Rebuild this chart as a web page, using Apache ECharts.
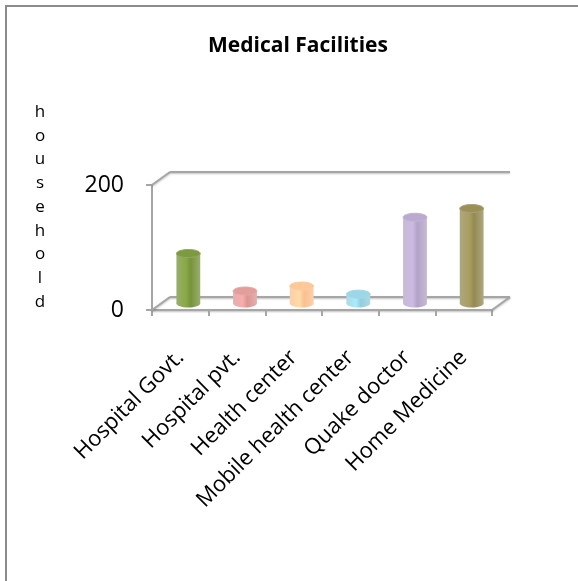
<!DOCTYPE html>
<html>
<head>
<meta charset="utf-8">
<script src="https://cdn.jsdelivr.net/npm/echarts@6/dist/echarts.min.js"></script>
<style>
  html, body { margin: 0; padding: 0; background: #fff; }
  #chart { width: 578px; height: 581px; }
</style>
</head>
<body>
<div id="chart"></div>
<script>
var categories = ['Hospital Govt.', 'Hospital pvt.', 'Health center', 'Mobile health center', 'Quake doctor', 'Home Medicine'];
var households = [80, 20, 28, 15, 138, 152];
var yTicks = [0, 200];

var barColors = ['#77933c', '#d99694', '#fac090', '#93cddd', '#b3a2c7', '#948a54'];
var frameColor = '#a6a6a6';
// 3d depth of the floor/walls in pixels
var depthX = 18, depthY = -13;

var chart = echarts.init(document.getElementById('chart'));

function renderFrame(params, api) {
  var cs = params.coordSys;
  var top = api.coord([0, yTicks[1]])[1];
  var left = cs.x, right = cs.x + cs.width, bottom = cs.y + cs.height;
  function line(x1, y1, x2, y2) {
    return {
      type: 'line',
      shape: { x1: x1, y1: y1, x2: x2, y2: y2 },
      style: { stroke: frameColor, lineWidth: 2, shadowBlur: 2, shadowColor: 'rgba(0,0,0,0.25)', shadowOffsetY: 1 }
    };
  }
  return {
    type: 'group',
    children: [
      line(left, top, left + depthX, top + depthY),
      line(left + depthX, top + depthY, right + depthX, top + depthY),
      line(left, bottom, left + depthX, bottom + depthY),
      line(left + depthX, bottom + depthY, right + depthX, bottom + depthY),
      line(right, bottom, right + depthX, bottom + depthY)
    ]
  };
}

function renderCylinder(params, api) {
  var i = api.value(0);
  var v = api.value(1);
  var base = api.coord([i, 0]);
  var head = api.coord([i, v]);
  var w = api.size([1, 0])[0] * 0.42;
  var cx = base[0] + depthX / 2 - 1;
  var by = base[1] + depthY / 2;
  var ty = head[1] + depthY / 2;
  var ry = 4;
  var c = barColors[i % barColors.length];
  var dark = echarts.color.lift(c, 0.25);
  var light = echarts.color.lift(c, -0.15);
  var grad = new echarts.graphic.LinearGradient(0, 0, 1, 0, [
    { offset: 0, color: dark },
    { offset: 0.4, color: light },
    { offset: 0.6, color: c },
    { offset: 1, color: dark }
  ]);
  return {
    type: 'group',
    children: [
      { type: 'ellipse', shape: { cx: cx, cy: by, rx: w / 2, ry: ry }, style: { fill: grad } },
      { type: 'rect', shape: { x: cx - w / 2, y: ty, width: w, height: by - ty }, style: { fill: grad } },
      { type: 'ellipse', shape: { cx: cx, cy: ty, rx: w / 2, ry: ry }, style: { fill: echarts.color.lift(c, -0.05), stroke: echarts.color.lift(c, 0.2), lineWidth: 1 } }
    ]
  };
}

var option = {
  backgroundColor: '#fff',
  animation: false,
  graphic: [
    { type: 'rect', shape: { x: 6, y: 6, width: 620, height: 620 }, style: { fill: 'none', stroke: '#8c8c8c', lineWidth: 2 } },
    { type: 'text', x: 298, y: 46, style: { text: 'Medical Facilities', font: 'bold 21px "Open Sans"', fill: '#000', align: 'center', verticalAlign: 'middle' } },
    { type: 'text', x: 40, y: 207, style: { text: 'household'.split('').join('\n'), font: '17px "Open Sans"', lineHeight: 23.7, fill: '#000', align: 'center', verticalAlign: 'middle' } }
  ],
  grid: { left: 152, right: 86, top: 185, bottom: 271 },
  xAxis: {
    type: 'category',
    data: categories,
    axisLine: { lineStyle: { color: frameColor, width: 2, shadowBlur: 2, shadowColor: 'rgba(0,0,0,0.25)', shadowOffsetY: 1 } },
    axisTick: { show: true, length: 6, lineStyle: { color: frameColor, width: 2 } },
    axisLabel: { rotate: 45, margin: 44, color: '#000', fontSize: 22, fontFamily: 'Open Sans', interval: 0 }
  },
  yAxis: {
    type: 'value',
    min: yTicks[0],
    max: yTicks[1],
    interval: yTicks[1] - yTicks[0],
    axisLine: { show: true, lineStyle: { color: frameColor, width: 2 } },
    axisTick: { show: true, length: 6, lineStyle: { color: frameColor, width: 2 } },
    splitLine: { show: false },
    axisLabel: { color: '#000', fontSize: 23, fontFamily: 'Open Sans', margin: 28 }
  },
  series: [
    {
      type: 'custom',
      renderItem: renderFrame,
      data: [[0, 0]],
      z: 1,
      silent: true
    },
    {
      type: 'custom',
      renderItem: renderCylinder,
      data: households.map(function (v, i) { return [i, v]; }),
      z: 3
    }
  ]
};

chart.setOption(option);
</script>
</body>
</html>
